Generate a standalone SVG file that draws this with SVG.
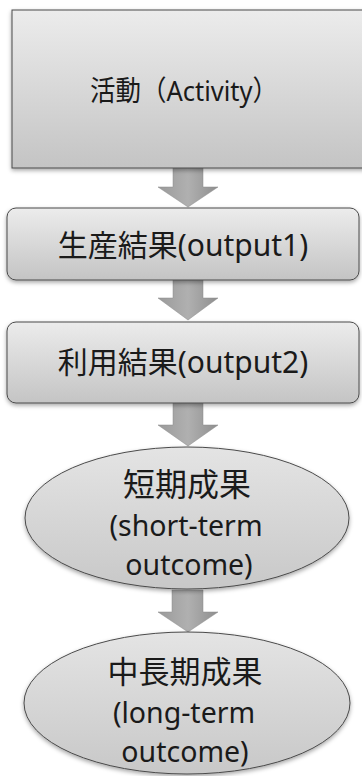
<svg xmlns="http://www.w3.org/2000/svg" width="362" height="776" viewBox="0 0 362 776">
<style>
.node{stroke:#4a4a4a;stroke-width:1;filter:url(#sh)}
.lbl{font-family:"Noto Sans","Noto Sans CJK JP",sans-serif;fill:#1a1a1a;text-anchor:middle}
.arr{fill:url(#ga);stroke:#8a8a8a;stroke-width:0.5}
</style>
<defs>
<linearGradient id="gb" x1="0" y1="0" x2="0" y2="1">
<stop offset="0" stop-color="#ececec"/>
<stop offset="1" stop-color="#c4c4c4"/>
</linearGradient>
<linearGradient id="ge" x1="0" y1="0" x2="0" y2="1">
<stop offset="0" stop-color="#e4e4e4"/>
<stop offset="1" stop-color="#c8c8c8"/>
</linearGradient>
<linearGradient id="ga" x1="0" y1="0" x2="1" y2="0">
<stop offset="0" stop-color="#9a9a9a"/>
<stop offset="0.5" stop-color="#b0b0b0"/>
<stop offset="1" stop-color="#8e8e8e"/>
</linearGradient>
<filter id="sh" x="-5%" y="-5%" width="115%" height="125%">
<feDropShadow dx="0" dy="2" stdDeviation="2" flood-color="#000" flood-opacity="0.35"/>
</filter>
</defs>
<g id="connectors">
<polygon class="arr" points="173,168 203,168 203,187 218,187 188,207 158,187 173,187"/>
<polygon class="arr" points="173,280 203,280 203,298 218,298 188,320 158,298 173,298"/>
<polygon class="arr" points="173,403 203,403 203,425 218,425 188,446 158,425 173,425"/>
<polygon class="arr" points="172,590 203,590 203,612 218,612 188,632 158,612 172,612"/>
</g>
<g id="activity">
<rect class="node" x="12" y="10" width="360" height="158" fill="url(#gb)"/>
<text class="lbl" x="184" y="101" font-size="28" textLength="188" lengthAdjust="spacingAndGlyphs">活動（Activity）</text>
</g>
<g id="output1">
<rect class="node" x="7" y="208" width="352" height="72" rx="9" fill="url(#gb)"/>
<text class="lbl" x="183" y="256" font-size="30">生産結果(output1)</text>
</g>
<g id="output2">
<rect class="node" x="7" y="322" width="352" height="81" rx="9" fill="url(#gb)"/>
<text class="lbl" x="183" y="373" font-size="30">利用結果(output2)</text>
</g>
<g id="short-term">
<ellipse class="node" cx="187" cy="518" rx="162" ry="71" fill="url(#ge)"/>
<text class="lbl" x="187" y="496" font-size="32">短期成果</text>
<text class="lbl" x="186" y="536" font-size="28.5">(short-term</text>
<text class="lbl" x="189" y="575" font-size="28.5">outcome)</text>
</g>
<g id="long-term">
<ellipse class="node" cx="187" cy="703" rx="163" ry="71" fill="url(#ge)"/>
<text class="lbl" x="185" y="683" font-size="31">中長期成果</text>
<text class="lbl" x="184" y="723" font-size="28.5">(long-term</text>
<text class="lbl" x="185" y="762" font-size="28.5">outcome)</text>
</g>
</svg>
